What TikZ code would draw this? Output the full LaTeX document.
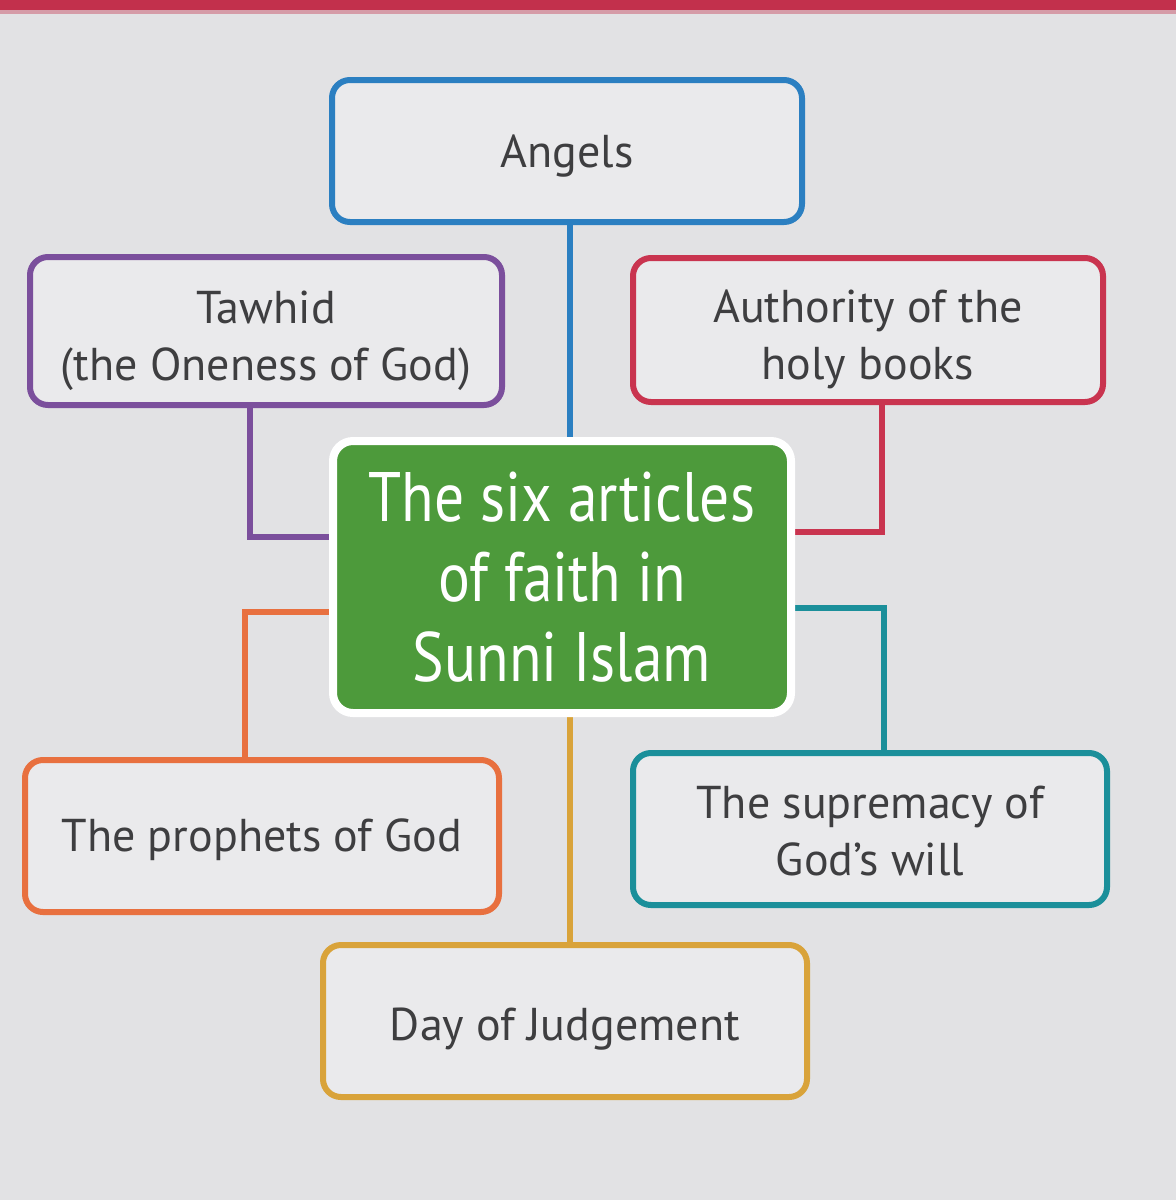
\documentclass[tikz,border=0pt]{standalone}
\usepackage{fontspec}
\setmainfont{PT Sans}
\usetikzlibrary{calc}
\pgfdeclarelayer{bg}
\pgfdeclarelayer{lines}
\pgfsetlayers{bg,lines,main}
\definecolor{bgcol}{HTML}{E2E2E4}
\definecolor{boxfill}{HTML}{EAEAEC}
\definecolor{band}{HTML}{C2304C}
\definecolor{cblue}{HTML}{2B7FC1}
\definecolor{cpurple}{HTML}{7B4F9C}
\definecolor{cred}{HTML}{C9344F}
\definecolor{cgreen}{HTML}{4D9A3B}
\definecolor{corange}{HTML}{E8703F}
\definecolor{cteal}{HTML}{1B8F9A}
\definecolor{cgold}{HTML}{D9A33A}
\definecolor{txt}{HTML}{3E3E40}
\begin{document}
\begin{tikzpicture}[x=0.5pt,y=-0.5pt,
  box/.style={draw, rounded corners=9pt, line width=3pt, fill=boxfill, inner sep=0pt},
  lbl/.style={text=txt, font=\fontsize{23}{28.5}\selectfont, align=center, inner sep=0pt},
  titlebox/.style={draw=white, fill=cgreen, rounded corners=10pt, line width=4pt,
    text=white, align=center, inner sep=0pt,
    font=\fontsize{35}{40}\selectfont},
  link/.style={line width=3pt}]
\begin{pgfonlayer}{bg}
  \fill[bgcol] (0,0) rectangle (1176,1200);
  \fill[band] (0,0) rectangle (1176,10);
  \fill[band!40!bgcol] (0,10) rectangle (1176,14);
\end{pgfonlayer}
\useasboundingbox (0,0) rectangle (1176,1200);

\node[box, draw=cblue, minimum width=235pt, minimum height=71pt,
  label={[lbl,yshift=-2.5pt]center:Angels}] (ang) at (567,151) {};
\node[box, draw=cpurple, minimum width=236pt, minimum height=74pt,
  label={[lbl,yshift=-5pt]center:Tawhid\\(the Oneness of God)}] (taw) at (266,331) {};
\node[box, draw=cred, minimum width=235pt, minimum height=72pt,
  label={[lbl,yshift=-4.5pt]center:Authority of the\\holy books}] (auth) at (868,330) {};
\node[titlebox, minimum width=229pt, minimum height=136pt] (title) at (562,577)
  {\scalebox{0.85}[1]{The six articles}\\\scalebox{0.85}[1]{of faith in}\\\scalebox{0.85}[1]{Sunni Islam}};
\node[box, draw=corange, minimum width=237pt, minimum height=76pt,
  label={[lbl,yshift=-2pt]center:The prophets of God}] (pro) at (262,836) {};
\node[box, draw=cteal, minimum width=237pt, minimum height=76pt,
  label={[lbl,yshift=-1pt]center:The supremacy of\\God’s will}] (sup) at (870,829) {};
\node[box, draw=cgold, minimum width=242pt, minimum height=76pt,
  label={[lbl,yshift=-4pt]center:Day of Judgement}] (day) at (565,1021) {};

\begin{pgfonlayer}{lines}
  \draw[link, cblue] (ang.south -| 570,0) -- (title.north -| 570,0);
  \draw[link, cpurple] (taw.south -| 250,0) |- (title.west |- 0,537);
  \draw[link, cred] (auth.south -| 882,0) |- (title.east |- 0,532);
  \draw[link, corange] (title.west |- 0,612) -| (pro.north -| 245,0);
  \draw[link, cteal] (title.east |- 0,608) -| (sup.north -| 884,0);
  \draw[link, cgold] (title.south -| 570,0) -- (day.north -| 570,0);
\end{pgfonlayer}
\end{tikzpicture}
\end{document}
